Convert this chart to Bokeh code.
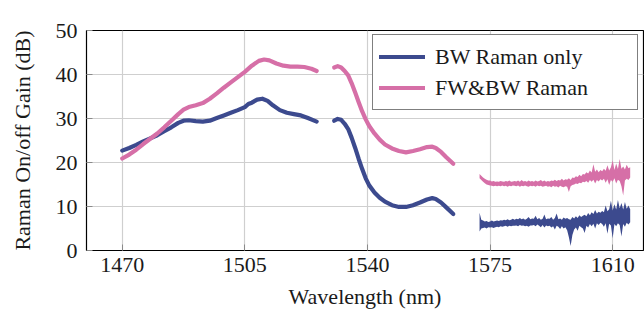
import numpy as np
from bokeh.plotting import figure
from bokeh.models import Range1d, Legend, LegendItem, FixedTicker
from bokeh.embed import file_html
from bokeh.resources import INLINE

# ---------------- data ----------------
# Smooth part of the spectrum, measured in two sections (gap between them)
bw_wl_a = [1470, 1472, 1474, 1476, 1478, 1480, 1482, 1484, 1486, 1487.5, 1489, 1491, 1493,
           1495, 1497, 1499, 1501, 1503, 1505, 1506, 1507, 1508.5, 1510, 1511.5, 1513, 1515,
           1517, 1519, 1521, 1523, 1525.5]
bw_gain_a = [22.7, 23.3, 24.0, 24.8, 25.5, 26.2, 27.1, 28.0, 29.0, 29.5, 29.6, 29.4, 29.3,
             29.5, 30.1, 30.7, 31.3, 31.9, 32.6, 33.3, 33.6, 34.3, 34.5, 34.0, 33.0, 31.9,
             31.3, 31.0, 30.7, 30.1, 29.3]

bw_wl_b = [1530.5, 1531.5, 1532.5, 1533.5, 1534.5, 1535.5, 1536.5, 1537.5, 1538.5, 1539.5,
           1540.5, 1542, 1543.5, 1545, 1547, 1549, 1551, 1553, 1555, 1557, 1558.5, 1559.5,
           1561, 1562.5, 1564.5]
bw_gain_b = [29.5, 29.9, 29.7, 28.8, 27.6, 25.6, 23.3, 20.8, 18.5, 16.4, 14.8, 13.2, 12.0,
             11.1, 10.3, 9.9, 9.9, 10.3, 10.9, 11.6, 11.9, 11.7, 10.9, 9.8, 8.3]

fb_wl_a = [1470, 1472, 1474, 1476, 1478, 1480, 1482, 1484, 1486, 1487.5, 1489, 1491, 1493,
           1495, 1497, 1499, 1501, 1503, 1505, 1507, 1509, 1510.5, 1512, 1514, 1516, 1518,
           1520, 1522, 1524, 1525.5]
fb_gain_a = [20.9, 21.8, 22.9, 24.2, 25.4, 26.6, 28.0, 29.5, 31.0, 32.0, 32.6, 33.0, 33.5,
             34.5, 35.7, 37.0, 38.2, 39.4, 40.6, 42.0, 43.1, 43.4, 43.2, 42.5, 42.0, 41.8,
             41.8, 41.7, 41.3, 40.8]

fb_wl_b = bw_wl_b
fb_gain_b = [41.6, 41.9, 41.6, 40.8, 39.8, 38.0, 35.9, 33.7, 31.6, 29.8, 28.3, 26.6, 25.2,
             24.1, 23.2, 22.6, 22.3, 22.6, 23.0, 23.5, 23.6, 23.3, 22.4, 21.2, 19.7]

# Long-wavelength section: noisy trace, stored as min/max envelope per 0.5 nm sample
noisy_wl = np.arange(1572.0, 1615.01, 0.5)

bw_hi = [8.6, 7.0, 6.8, 6.6, 6.7, 6.5, 6.6, 6.8, 6.6, 6.7,
         6.8, 6.7, 6.9, 6.8, 7.0, 6.9, 7.1, 6.9, 7.0, 7.2,
         7.0, 7.2, 7.1, 7.4, 7.1, 7.3, 7.0, 7.2, 7.6, 7.1,
         7.3, 7.2, 7.9, 7.1, 7.4, 7.0, 7.2, 8.2, 7.1, 7.3,
         7.2, 7.6, 7.0, 7.4, 8.4, 7.1, 7.3, 7.0, 7.5, 7.2,
         7.4, 7.1, 7.0, 7.6, 7.3, 7.8, 7.4, 8.0, 7.6, 7.9,
         8.1, 7.8, 8.5, 8.0, 8.7, 8.3, 9.2, 8.4, 8.8, 8.6,
         9.0, 8.7, 10.2, 8.9, 9.4, 11.3, 9.1, 10.5, 9.3, 11.5,
         9.6, 10.8, 9.3, 11.0, 9.5, 10.2, 9.4]
bw_lo = [4.3, 5.0, 5.1, 5.2, 5.0, 5.3, 5.2, 5.3, 5.1, 5.3,
         5.4, 5.3, 5.5, 5.4, 5.5, 5.6, 5.4, 5.6, 5.5, 5.6,
         5.6, 5.7, 5.5, 5.8, 5.6, 5.7, 5.5, 5.6, 5.4, 5.7,
         5.7, 5.8, 5.5, 5.9, 5.6, 5.3, 5.8, 5.2, 5.7, 5.5,
         5.6, 5.2, 5.5, 4.8, 5.6, 5.4, 4.9, 5.5, 5.0, 5.3,
         4.6, 3.0, 1.0, 3.5, 4.8, 5.2, 4.5, 5.6, 5.3, 5.0,
         4.0, 5.6, 5.2, 6.0, 5.5, 6.1, 5.0, 6.2, 5.8, 6.3,
         6.0, 5.4, 6.2, 3.8, 6.1, 5.7, 2.8, 6.0, 5.5, 6.2,
         5.8, 3.2, 6.0, 5.4, 6.3, 5.9, 6.4]

fb_hi = [17.4, 17.0, 16.6, 16.3, 16.1, 15.9, 15.9, 15.7, 15.8, 15.6,
         15.7, 15.6, 15.8, 15.7, 15.6, 15.8, 15.7, 15.9, 15.6, 15.7,
         15.8, 15.7, 15.9, 15.6, 16.0, 15.7, 15.8, 15.6, 15.9, 15.7,
         15.8, 15.6, 15.9, 15.7, 15.8, 16.0, 15.7, 15.9, 15.6, 15.8,
         15.7, 15.9, 15.8, 16.1, 15.8, 16.0, 15.9, 16.3, 15.9, 16.2,
         16.1, 16.4, 16.0, 16.6, 16.5, 16.9, 16.7, 17.2, 16.9, 17.4,
         17.3, 17.8, 17.5, 18.2, 17.7, 19.6, 17.9, 18.4, 17.8, 18.3,
         18.0, 18.6, 18.1, 19.4, 18.2, 18.9, 20.5, 18.3, 19.8, 18.5,
         20.8, 18.6, 19.1, 18.4, 19.5, 18.7, 18.9]
fb_lo = [16.4, 16.0, 15.6, 15.3, 15.0, 14.9, 14.8, 14.7, 14.6, 14.7,
         14.6, 14.7, 14.6, 14.8, 14.6, 14.7, 14.5, 14.7, 14.6, 14.8,
         14.7, 14.6, 14.8, 14.5, 14.7, 14.6, 14.8, 14.6, 14.5, 14.7,
         14.6, 14.7, 14.5, 14.8, 14.6, 14.7, 14.5, 14.6, 14.7, 14.5,
         14.6, 14.4, 14.7, 14.5, 14.6, 14.3, 14.7, 14.5, 14.4, 14.6,
         14.5, 13.3, 14.6, 14.9, 15.0, 15.2, 15.1, 15.4, 15.3, 15.6,
         15.5, 15.8, 15.4, 16.0, 15.6, 16.1, 15.2, 16.0, 15.7, 16.2,
         15.9, 16.3, 15.4, 16.2, 14.9, 16.0, 15.6, 16.4, 15.2, 16.1,
         15.8, 14.6, 12.5, 15.9, 16.3, 16.0, 16.6]

x_ticks = [1470, 1505, 1540, 1575, 1610]
y_ticks = [0, 10, 20, 30, 40, 50]
series_names = ["BW Raman only", "FW&BW Raman"]

# ---------------- style ----------------
BLUE = "#3c4a8e"
PINK = "#d66fa7"
FONT = "Times"
SIZE = "22px"
TXT = "#1a1a1a"

p = figure(frame_width=557, frame_height=220, output_backend="svg", toolbar_location=None,
           x_range=Range1d(1459.8, 1618.8), y_range=Range1d(0, 50),
           min_border_left=86, min_border_right=1, min_border_top=30, min_border_bottom=76)
p.background_fill_color = "white"
p.border_fill_color = "white"
p.outline_line_color = "black"
p.outline_line_width = 1.2

for ax in (p.xaxis[0], p.yaxis[0]):
    ax.axis_line_color = None
    ax.major_tick_in = 6
    ax.major_tick_out = 0
    ax.minor_tick_line_color = None
    ax.major_tick_line_color = "#8a8a8a"
    ax.major_label_text_font = FONT
    ax.major_label_text_font_size = SIZE
    ax.major_label_text_color = TXT
    ax.axis_label_text_font = FONT
    ax.axis_label_text_font_size = SIZE
    ax.axis_label_text_font_style = "normal"
    ax.axis_label_text_color = TXT

p.xaxis.ticker = FixedTicker(ticks=x_ticks)
p.yaxis.ticker = FixedTicker(ticks=y_ticks)
p.xaxis.axis_label = "Wavelength (nm)"
p.yaxis.axis_label = "Raman On/off Gain (dB)"
p.xaxis.major_label_standoff = 7
p.xaxis.axis_label_standoff = 9
p.yaxis.major_label_standoff = 9
p.yaxis.axis_label_standoff = 18

p.xgrid.ticker = FixedTicker(ticks=x_ticks)
p.ygrid.ticker = FixedTicker(ticks=y_ticks)
p.grid.grid_line_color = "#cfcfcf"
p.grid.grid_line_width = 1.2

# ---------------- traces ----------------
bw_line = p.multi_line(xs=[bw_wl_a, bw_wl_b], ys=[bw_gain_a, bw_gain_b],
                       line_color=BLUE, line_width=4.2, line_cap="round", line_join="round")
fb_line = p.multi_line(xs=[fb_wl_a, fb_wl_b], ys=[fb_gain_a, fb_gain_b],
                       line_color=PINK, line_width=4.2, line_cap="round", line_join="round")
p.varea(x=noisy_wl, y1=bw_lo, y2=bw_hi, fill_color=BLUE)
p.varea(x=noisy_wl, y1=fb_lo, y2=fb_hi, fill_color=PINK)

legend = Legend(items=[LegendItem(label=series_names[0], renderers=[bw_line]),
                       LegendItem(label=series_names[1], renderers=[fb_line])],
                location=(286, 140))
legend.border_line_color = "black"
legend.border_line_width = 1.2
legend.background_fill_alpha = 1.0
legend.padding = 6
legend.spacing = 0
legend.margin = 0
legend.glyph_width = 46
legend.glyph_height = 31
legend.label_height = 31
legend.label_width = 196
legend.label_standoff = 10
legend.label_text_font = FONT
legend.label_text_font_size = SIZE
legend.label_text_color = TXT
p.add_layout(legend)

open("out.html", "w").write(file_html(p, INLINE))
